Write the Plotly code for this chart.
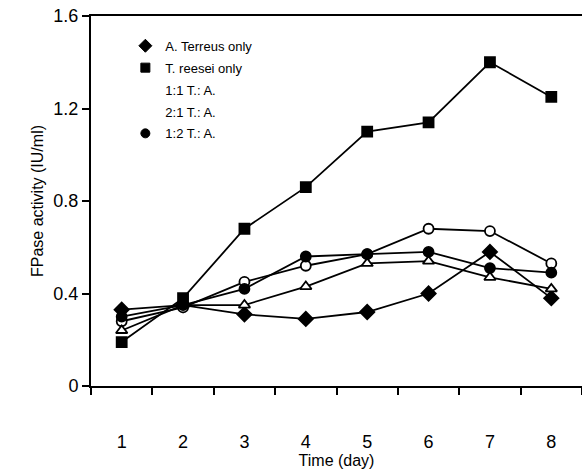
import plotly.graph_objects as go

days = [1, 2, 3, 4, 5, 6, 7, 8]
a_terreus = [0.33, 0.35, 0.31, 0.29, 0.32, 0.40, 0.58, 0.38]
t_reesei = [0.19, 0.38, 0.68, 0.86, 1.10, 1.14, 1.40, 1.25]
mix_1_1 = [0.28, 0.34, 0.45, 0.52, 0.57, 0.68, 0.67, 0.53]
mix_2_1 = [0.24, 0.35, 0.35, 0.43, 0.53, 0.54, 0.47, 0.42]
mix_1_2 = [0.30, 0.35, 0.42, 0.56, 0.57, 0.58, 0.51, 0.49]

# name, values, symbol, size, fill, show marker in legend
series = [
    ("A. Terreus only", a_terreus, "diamond", 11, "black", True),
    ("T. reesei only", t_reesei, "square", 10, "black", True),
    ("1:1 T.: A.", mix_1_1, "circle", 10, "white", False),
    ("2:1 T.: A.", mix_2_1, "triangle-up", 10, "white", False),
    ("1:2 T.: A.", mix_1_2, "circle", 10, "black", True),
]

fig = go.Figure()
for name, vals, sym, sz, fill, _ in series:
    fig.add_trace(go.Scatter(
        x=days, y=vals, mode="lines+markers", name=name,
        line=dict(color="black", width=1.8),
        marker=dict(symbol=sym, size=sz, color=fill,
                    line=dict(color="black", width=1.8)),
        showlegend=False,
    ))
for name, vals, sym, sz, fill, show in series:
    fig.add_trace(go.Scatter(
        x=[None], y=[None], mode="markers", name=name, legendgroup=name,
        marker=dict(symbol=sym, size=sz - 1, color=fill if show else "rgba(0,0,0,0)",
                    line=dict(color="black" if show else "rgba(0,0,0,0)", width=1)),
    ))

font = "Liberation Sans, Arial, sans-serif"
fig.update_layout(
    width=582, height=474,
    margin=dict(l=91, r=0, t=16, b=88),
    paper_bgcolor="white", plot_bgcolor="white",
    font=dict(family=font, color="black"),
    legend=dict(x=0.07, y=0.96, xanchor="left", yanchor="top",
                font=dict(size=13, family=font), tracegroupgap=2,
                bgcolor="rgba(0,0,0,0)", itemwidth=30),
    xaxis=dict(range=[0.5, 8.5], tickvals=days, ticktext=[str(d) for d in days],
               ticks="", showgrid=False, zeroline=False,
               showline=True, linecolor="black", linewidth=2, mirror=True,
               tickfont=dict(size=18), ticklabelstandoff=38,
               minor=dict(ticks="outside", tick0=0.5, dtick=1, ticklen=7,
                          tickwidth=2, tickcolor="black", showgrid=False),
               title=dict(text="Time (day)", font=dict(size=16), standoff=4)),
    yaxis=dict(range=[0, 1.6], tickvals=[0, 0.4, 0.8, 1.2, 1.6],
               ticktext=["0", "0.4", "0.8", "1.2", "1.6"],
               ticks="outside", ticklen=7, tickwidth=2, tickcolor="black",
               showgrid=False, zeroline=False,
               showline=True, linecolor="black", linewidth=2,
               tickfont=dict(size=18),
               title=dict(text="FPase activity (IU/ml)", font=dict(size=16), standoff=6)),
)

fig.write_html("out.html")
